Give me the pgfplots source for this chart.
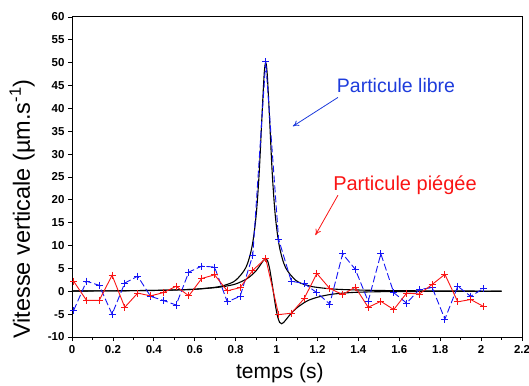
\documentclass[border=0pt]{standalone}
\usepackage{fontspec}
\setmainfont{Liberation Sans}
\usepackage{pgfplots}
\pgfplotsset{compat=1.18}
\usetikzlibrary{arrows.meta}
\definecolor{txtblue}{RGB}{30,60,220}
\definecolor{lineblue}{RGB}{20,20,245}
\definecolor{linered}{RGB}{250,20,20}
\begin{document}
\begin{tikzpicture}
\useasboundingbox (0,0) rectangle (529pt,385pt);
\begin{axis}[
  at={(72pt,48pt)}, anchor=south west,
  scale only axis, width=450pt, height=320pt,
  xmin=0, xmax=2.2, ymin=-10, ymax=60,
  xtick={0,0.2,...,2.2}, minor x tick num=1,
  ytick={-10,-5,...,60},
  xticklabels={0,0.2,0.4,0.6,0.8,1,1.2,1.4,1.6,1.8,2,2.2},
  tick pos=left, tick align=outside,
  major tick length=4pt, minor tick length=2.5pt,
  axis line style={line width=1pt, black},
  every tick/.style={line width=0.8pt, black},
  /pgf/number format/assume math mode=true,
  ticklabel style={font=\bfseries\fontsize{11.5}{13}\selectfont},
  xticklabel style={yshift=-1pt},
  xlabel={temps (s)},
  ylabel={Vitesse verticale (µm.s\textsuperscript{-1})},
  xlabel style={at={(axis description cs:0.462,-0.1125)}, anchor=center, font=\fontsize{21}{24}\selectfont},
  ylabel style={at={(axis description cs:-0.111,0.40)}, anchor=center, font=\fontsize{23.5}{26}\selectfont},
  clip=false,
]
% fitted curves
\addplot[black, line width=1.1pt, smooth] coordinates {
(0,0.06) (0.2,0.10) (0.4,0.18) (0.5,0.27) (0.6,0.45) (0.7,0.88) (0.75,1.37) (0.8,2.40)
(0.85,5.19) (0.88,9.76) (0.9,16.5) (0.915,25.8) (0.93,39.5) (0.94,47.8) (0.947,50.0)
(0.954,47.8) (0.964,39.5) (0.979,25.8) (0.994,16.5) (1.014,9.76) (1.044,5.19)
(1.094,2.40) (1.144,1.37) (1.194,0.88) (1.3,0.43) (1.5,0.18) (1.8,0.075) (2.1,0.04)};
\addplot[black, line width=1.1pt, smooth] coordinates {
(0,0.05) (0.2,0.1) (0.4,0.2) (0.5,0.3) (0.6,0.45) (0.7,0.8) (0.75,1.1) (0.8,1.6)
(0.85,2.6) (0.88,3.6) (0.9,4.5) (0.92,5.7) (0.935,6.7) (0.945,7.1) (0.955,6.8)
(0.965,5.2) (0.975,2.6) (0.985,-0.3) (0.995,-3.2) (1.005,-5.5) (1.015,-6.8)
(1.025,-7.1) (1.035,-6.8) (1.05,-6.0) (1.07,-4.9) (1.1,-3.6) (1.15,-2.1) (1.2,-1.3)
(1.25,-0.8) (1.3,-0.5) (1.4,-0.2) (1.6,-0.05) (2.1,0)};
% free particle
\addplot[lineblue, line width=0.9pt, dash pattern=on 7pt off 3pt, mark=+, mark size=3.5pt, mark options={solid}] coordinates {
(0.008,-4.2) (0.071,2.2) (0.133,1.3) (0.196,-5.0) (0.258,1.8) (0.321,3.3) (0.384,-1.1)
(0.446,-2.0) (0.509,-3.0) (0.571,4.2) (0.634,5.5) (0.697,5.3) (0.759,-2.3) (0.822,-1.1)
(0.884,7.9) (0.947,50.2) (1.010,11.4) (1.072,2.2) (1.135,1.7) (1.197,-0.3) (1.260,-2.8)
(1.323,8.2) (1.385,4.8) (1.448,-2.2) (1.510,8.2) (1.573,-0.3) (1.636,-2.6) (1.698,0.4)
(1.761,0.8) (1.823,-6.1) (1.886,1.1) (1.949,-1.1) (2.011,0.6)};
% trapped particle
\addplot[linered, line width=0.9pt, mark=+, mark size=3.5pt] coordinates {
(0.008,2.2) (0.071,-2.0) (0.133,-2.0) (0.196,3.5) (0.258,-3.5) (0.321,-0.4) (0.384,-1.0)
(0.446,-0.3) (0.509,1.1) (0.571,-1.0) (0.634,2.8) (0.697,3.6) (0.759,0.1) (0.822,0.8)
(0.884,4.6) (0.947,7.2) (1.010,-5.1) (1.072,-4.8) (1.135,-1.6) (1.197,3.9) (1.260,0.6)
(1.323,-0.7) (1.385,0.9) (1.448,-3.5) (1.510,-2.2) (1.573,-4.0) (1.636,-0.4) (1.698,-0.6)
(1.761,1.5) (1.823,3.7) (1.886,-2.3) (1.949,-1.8) (2.011,-3.3)};
% annotations
\node[anchor=base, text=txtblue, font=\fontsize{19.5}{22}\selectfont] at (axis cs:1.584,43.5) {Particule libre};
\draw[txtblue, line width=0.8pt, -{To[length=6pt,width=6pt]}] (axis cs:1.30,42.4) -- (axis cs:1.08,36.1);
\node[anchor=base, text=linered, font=\fontsize{20}{22}\selectfont] at (axis cs:1.628,22.1) {Particule piégée};
\draw[linered, line width=0.8pt, -{To[length=6pt,width=6pt]}] (axis cs:1.30,21.0) -- (axis cs:1.19,12.3);
\end{axis}
\end{tikzpicture}
\end{document}
